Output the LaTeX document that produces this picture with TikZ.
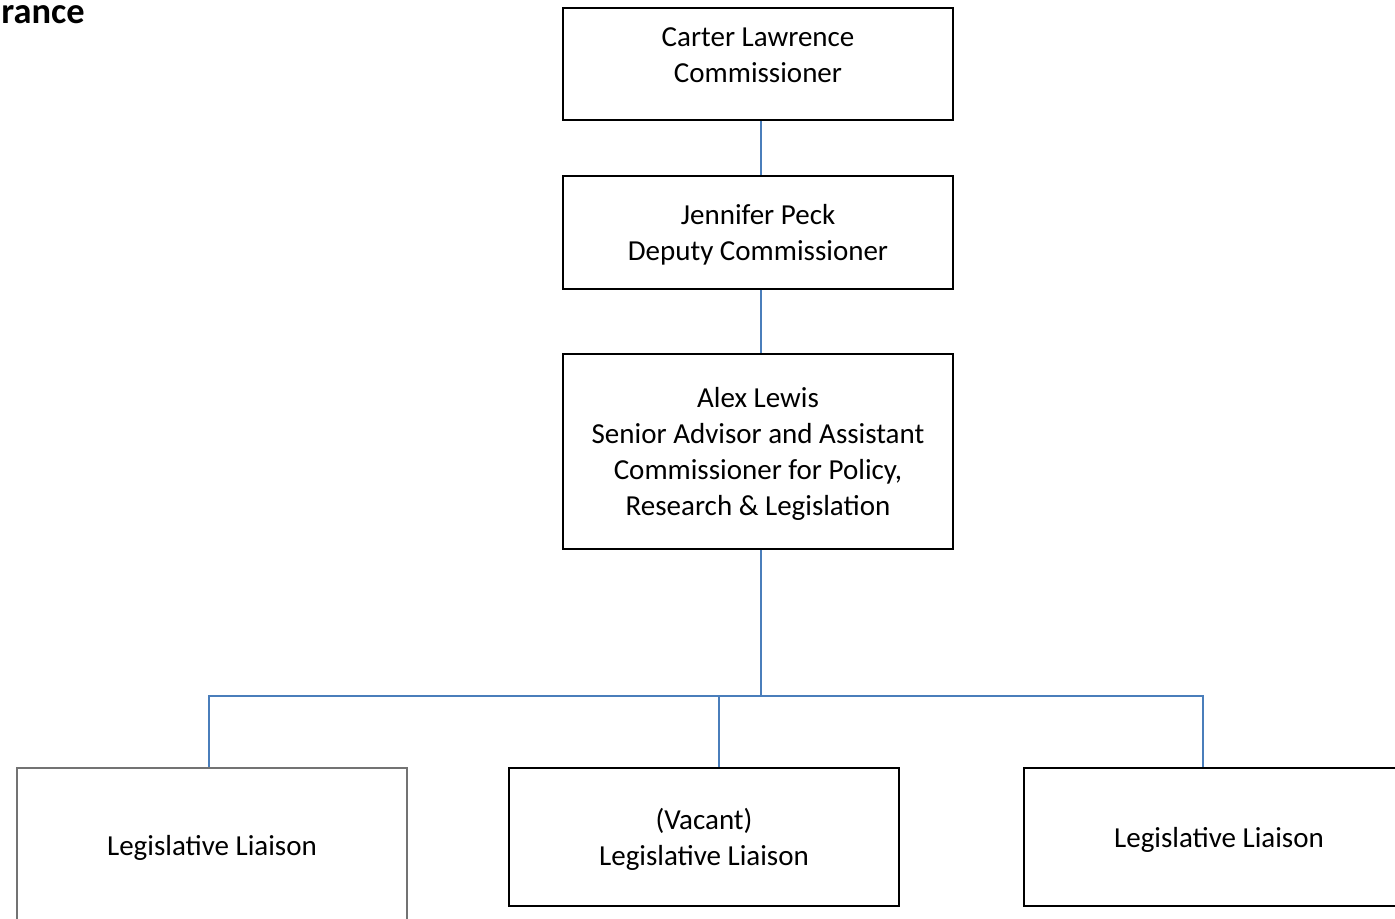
\documentclass[tikz,border=0pt]{standalone}
\usepackage{fontspec}
\setmainfont{Carlito}
\definecolor{connblue}{HTML}{4A7EBB}

\begin{document}
\begin{tikzpicture}[
    x=0.5pt, y=-0.5pt,
    % 节点样式
    mybox/.style={rectangle, draw=black, line width=1pt, minimum width=195pt, inner sep=0pt, align=center, text depth=0pt, font=\fontsize{14.5}{17.9}\selectfont},
    greybox/.style={mybox, draw=black!55},
    mylabel/.style={inner sep=0pt, align=center, font=\fontsize{14.5}{17.9}\selectfont},
    myline/.style={draw=connblue, line width=1pt}
]
    \useasboundingbox (0,0) rectangle (1395,919);
    \clip (0,0) rectangle (1395,919);

    % 标题
    \node [anchor=base west, inner sep=0pt, font=\fontsize{18.2}{22}\selectfont\bfseries] (title) at (1,24) {rance};

    % 上方三个框
    \node [mybox, minimum height=56pt] (cl) at (758,64) {};
    \node [mylabel] (cltext) at (758,55) {Carter Lawrence\\Commissioner};
    \node [mybox, minimum height=56.5pt] (jp) at (758,232.5) {Jennifer Peck\\Deputy Commissioner};
    \node [mybox, minimum height=97.5pt] (al) at (758,451.5) {Alex Lewis\\Senior Advisor and Assistant\\Commissioner for Policy,\\Research \& Legislation};

    % 下方三个框
    \node [greybox, minimum height=77pt] (ll1) at (212,845) {Legislative Liaison};
    \node [mybox, minimum height=69pt] (ll2) at (704,837) {(Vacant)\\Legislative Liaison};
    \node [mybox, minimum height=69pt] (ll3) at (1219,837) {Legislative Liaison};

    % 连线
    \coordinate (spine) at (761,696);
    \coordinate (d1) at (209,696);
    \coordinate (d2) at (719,696);
    \coordinate (d3) at (1203,696);
    \draw [myline] (cl.south -| spine) -- (jp.north -| spine);
    \draw [myline] (jp.south -| spine) -- (al.north -| spine);
    \draw [myline] (al.south -| spine) -- (spine);
    \draw [myline] (ll1.north -| d1) -- (d1) -- (d3) -- (ll3.north -| d3);
    \draw [myline] (d2) -- (ll2.north -| d2);
\end{tikzpicture}
\end{document}
